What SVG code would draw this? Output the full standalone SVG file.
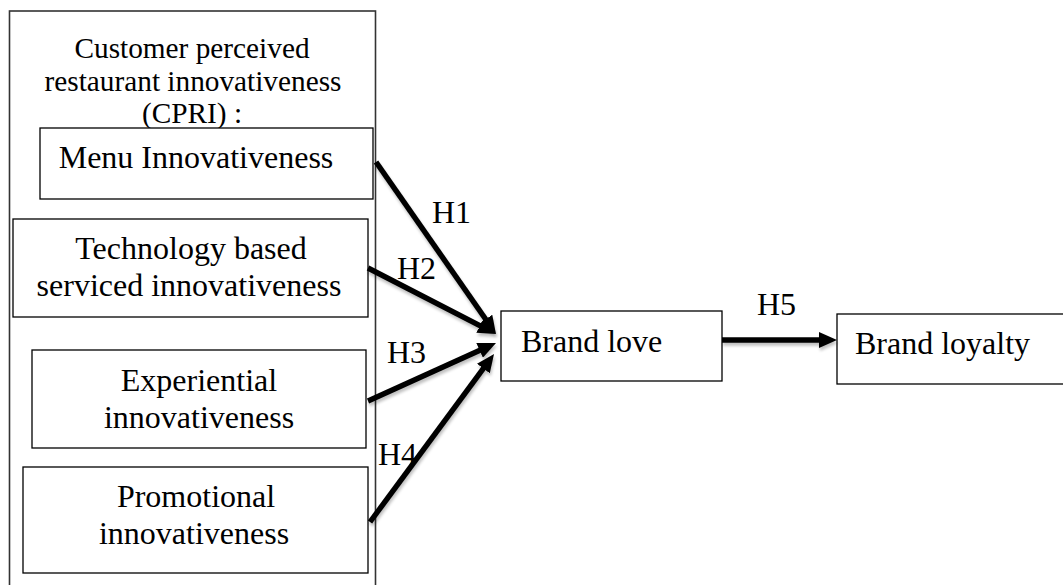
<svg xmlns="http://www.w3.org/2000/svg" width="1063" height="585" viewBox="0 0 1063 585">
  <style>
    .box { fill: #ffffff; stroke: #000000; stroke-width: 1.3; }
    .outer { fill: #ffffff; stroke: #333333; stroke-width: 1.6; }
    .t { font-family: "Liberation Serif", "Times New Roman", serif; font-size: 32px; fill: #000000; }
    .title { font-family: "Liberation Serif", "Times New Roman", serif; font-size: 29.3px; fill: #000000; }
    .mid { text-anchor: middle; }
    .conn { stroke: #000000; stroke-width: 5.4; fill: none; marker-end: url(#arrow); filter: url(#shadow); }
  </style>
  <defs>
    <marker id="arrow" markerUnits="userSpaceOnUse" viewBox="0 0 18 16" refX="7" refY="8" markerWidth="18" markerHeight="16" orient="auto">
      <path d="M0,0 L18,8 L0,16 Z" fill="#000000"/>
    </marker>
    <filter id="shadow" filterUnits="userSpaceOnUse" x="0" y="0" width="1063" height="585">
      <feGaussianBlur in="SourceAlpha" stdDeviation="1.5"/>
      <feOffset dx="1" dy="3" result="b"/>
      <feComponentTransfer><feFuncA type="linear" slope="0.25"/></feComponentTransfer>
      <feMerge><feMergeNode/><feMergeNode in="SourceGraphic"/></feMerge>
    </filter>
  </defs>

  <g id="cpri">
    <rect class="outer" x="9.5" y="11" width="366" height="600"/>
    <text class="title mid" x="192" y="58">Customer perceived</text>
    <text class="title mid" x="193" y="91">restaurant innovativeness</text>
    <text class="title mid" x="192" y="123">(CPRI) :</text>
  </g>

  <g id="menu">
    <rect class="box" x="40" y="128" width="333" height="71"/>
    <text class="t mid" x="196" y="168">Menu Innovativeness</text>
  </g>

  <g id="technology">
    <rect class="box" x="13" y="219" width="355" height="98"/>
    <text class="t mid" x="191" y="259">Technology based</text>
    <text class="t mid" x="189" y="296">serviced innovativeness</text>
  </g>

  <g id="experiential">
    <rect class="box" x="32" y="350" width="334" height="98"/>
    <text class="t mid" x="199" y="391">Experiential</text>
    <text class="t mid" x="199" y="428">innovativeness</text>
  </g>

  <g id="promotional">
    <rect class="box" x="23" y="467" width="345" height="106"/>
    <text class="t mid" x="196" y="507">Promotional</text>
    <text class="t mid" x="194" y="544">innovativeness</text>
  </g>

  <g id="brand-love">
    <rect class="box" x="501" y="311" width="221" height="70"/>
    <text class="t" x="521" y="352">Brand love</text>
  </g>

  <g id="brand-loyalty">
    <rect class="box" x="837" y="314" width="240" height="70"/>
    <text class="t" x="855" y="354">Brand loyalty</text>
  </g>

  <g id="connectors">
    <line class="conn" x1="376" y1="162" x2="489.7" y2="325"/>
    <line class="conn" x1="368" y1="268" x2="486.2" y2="328.9"/>
    <line class="conn" x1="368" y1="401" x2="486" y2="347.5"/>
    <line class="conn" x1="370" y1="522" x2="487.5" y2="362.9"/>
    <line class="conn" x1="722" y1="340" x2="826" y2="340"/>
    <text class="t" x="432" y="223">H1</text>
    <text class="t" x="397" y="279">H2</text>
    <text class="t" x="387" y="363">H3</text>
    <text class="t" x="378" y="465">H4</text>
    <text class="t" x="757" y="315">H5</text>
  </g>
</svg>
